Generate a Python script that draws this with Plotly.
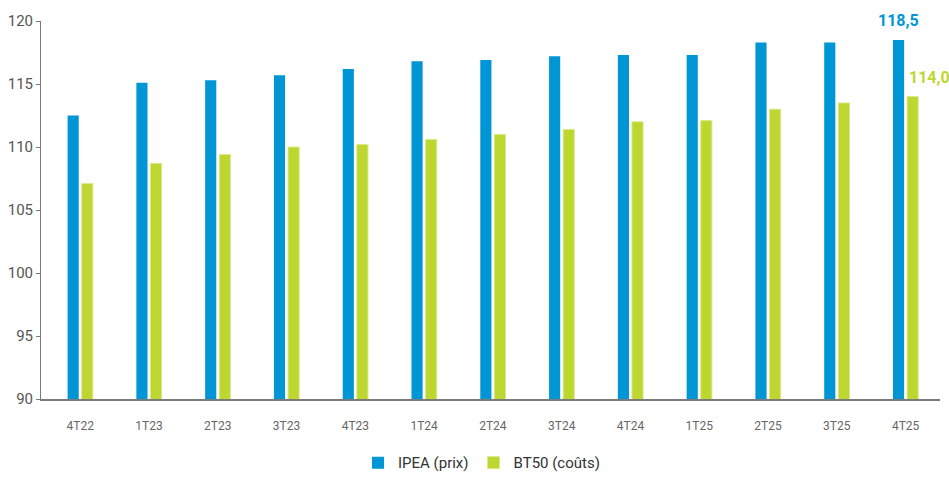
import plotly.graph_objects as go

# Quarters and index values (base 100 = 2021)
quarters = ['4T22', '1T23', '2T23', '3T23', '4T23', '1T24', '2T24',
            '3T24', '4T24', '1T25', '2T25', '3T25', '4T25']
ipea = [112.5, 115.1, 115.3, 115.7, 116.2, 116.8, 116.9,
        117.2, 117.3, 117.3, 118.3, 118.3, 118.5]
bt50 = [107.1, 108.7, 109.4, 110.0, 110.2, 110.6, 111.0,
        111.4, 112.0, 112.1, 113.0, 113.5, 114.0]

blue = '#0096d6'
green = '#bed630'

fig = go.Figure()
fig.add_trace(go.Bar(x=quarters, y=ipea, name='IPEA (prix)',
                     marker=dict(color=blue, line=dict(width=0))))
fig.add_trace(go.Bar(x=quarters, y=bt50, name='BT50 (coûts)',
                     marker=dict(color=green, line=dict(color='#dbe98a', width=1))))

# Labels on the last quarter
fig.add_annotation(x=quarters[-1], y=ipea[-1], text='<b>118,5</b>', showarrow=False,
                   xanchor='center', yanchor='bottom', xshift=-7, yshift=8,
                   font=dict(family='Roboto', size=16, color=blue))
fig.add_annotation(x=quarters[-1], y=bt50[-1], text='<b>114,0</b>', showarrow=False,
                   xanchor='left', yanchor='bottom', xshift=1, yshift=8,
                   font=dict(family='Roboto', size=16, color=green))

fig.update_layout(
    width=949, height=478,
    margin=dict(l=41, r=9, t=21, b=79, autoexpand=False),
    plot_bgcolor='white', paper_bgcolor='white',
    barmode='group', bargap=0.59, bargroupgap=0.21,
    font=dict(family='Roboto', color='#555555'),
    legend=dict(orientation='h', x=0.49, xanchor='center', y=-0.169, yanchor='middle',
                font=dict(size=15, color='#333333'),
                itemwidth=30, traceorder='normal'),
)
fig.update_xaxes(range=[-0.57, 12.5], showline=True, linecolor='#7a7a7a', linewidth=2,
                 ticks='', ticklabelstandoff=15,
                 tickfont=dict(size=12, color='#666666'), showgrid=False)
fig.update_yaxes(range=[90, 120], dtick=5, showline=True, linecolor='#7a7a7a',
                 linewidth=1, ticks='outside', ticklen=4, tickcolor='#7a7a7a',
                 tickfont=dict(size=15, color='#555555'), showgrid=False,
                 zeroline=False)

# drop the default page margin so the figure sits at the window's corner
fig.write_html('out.html', config={'displayModeBar': False},
               post_script="document.body.style.margin='0';document.body.style.overflow='hidden';")
